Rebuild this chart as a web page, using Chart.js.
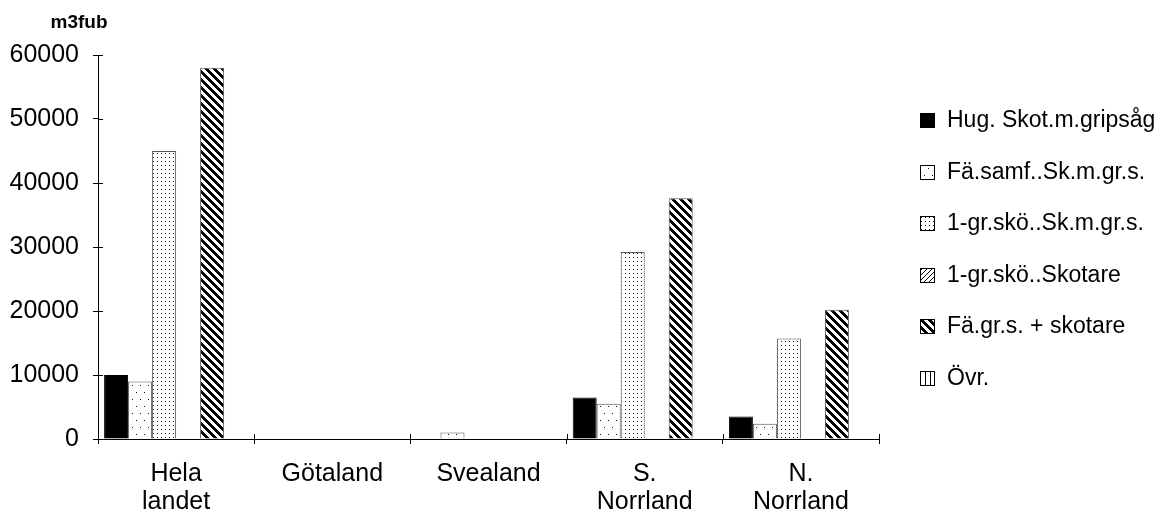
<!DOCTYPE html>
<html>
<head>
<meta charset="utf-8">
<script src="https://cdn.jsdelivr.net/npm/chart.js@4.4.1/dist/chart.umd.min.js"></script>
<style>
  html, body { margin: 0; padding: 0; background: #fff; }
  #wrap { width: 1165px; height: 513px; }
  canvas { display: block; }
</style>
</head>
<body>
<div id="wrap"><canvas id="c" width="1165" height="513"></canvas></div>
<script>
// Regions (x axis categories)
const categories = [['Hela', 'landet'], 'Götaland', 'Svealand', ['S.', 'Norrland'], ['N.', 'Norrland']];
// Series names
const seriesNames = ['Hug. Skot.m.gripsåg', 'Fä.samf..Sk.m.gr.s.', '1-gr.skö..Sk.m.gr.s.', '1-gr.skö..Skotare', 'Fä.gr.s. + skotare', 'Övr.'];
// Volumes per region, m3fub
const hugSkot      = [10000, 0, 0,    6500,  3500];
const faSamf       = [9000,  0, 1000, 5500,  2400];
const grSkoSkmgrs  = [45000, 0, 0,    29200, 15700];
const grSkoSkotare = [0,     0, 0,    0,     0];
const faGrSkotare  = [58000, 0, 0,    37600, 20200];
const ovr          = [0,     0, 0,    0,     0];
// Value axis
const yTicks = [0, 10000, 20000, 30000, 40000, 50000, 60000];
const unitLabel = 'm3fub';

const FONT = "'Liberation Sans', Arial, Helvetica, sans-serif";
Chart.defaults.font.family = FONT;
Chart.defaults.color = '#000';

const canvas = document.getElementById('c');
const ctx = canvas.getContext('2d');

// Build a repeating fill from a small pixel tile
function tilePattern(w, h, isInk, ink) {
  const t = document.createElement('canvas');
  t.width = w; t.height = h;
  const g = t.getContext('2d');
  g.fillStyle = '#fff';
  g.fillRect(0, 0, w, h);
  g.fillStyle = ink || '#000';
  for (let y = 0; y < h; y++) {
    for (let x = 0; x < w; x++) {
      if (isInk(x, y)) g.fillRect(x, y, 1, 1);
    }
  }
  return ctx.createPattern(t, 'repeat');
}

const fills = [
  '#000',
  // sparse staggered dots
  tilePattern(8, 14, (x, y) => (x === 0 && y === 0) || (x === 4 && y === 7), '#111'),
  // dense dots
  tilePattern(4, 4, (x, y) => x === 1 && y === 1, '#222'),
  // thin forward hatch
  tilePattern(5, 5, (x, y) => (x + y) % 5 === 0),
  // heavy backward stripes
  tilePattern(8, 8, (x, y) => ((x - y + 16) % 8) < 4),
  // vertical lines
  tilePattern(5, 5, (x) => x % 5 === 0)
];

const seriesValues = [hugSkot, faSamf, grSkoSkmgrs, grSkoSkotare, faGrSkotare, ovr];

const datasets = seriesNames.map((name, i) => ({
  label: name,
  data: seriesValues[i],
  backgroundColor: fills[i],
  borderColor: i === 0 ? '#000' : '#555',
  borderWidth: 1,
  borderSkipped: 'bottom'
}));

// Tick marks crossing into the plot area
const innerTicks = {
  id: 'innerTicks',
  afterDatasetsDraw(chart) {
    const { ctx, chartArea: a, scales } = chart;
    ctx.save();
    ctx.strokeStyle = '#000';
    ctx.lineWidth = 1;
    ctx.beginPath();
    scales.y.ticks.forEach(t => {
      const y = Math.round(scales.y.getPixelForValue(t.value)) + 0.5;
      ctx.moveTo(a.left, y);
      ctx.lineTo(a.left + 5, y);
    });
    const n = chart.data.labels.length;
    for (let i = 0; i <= n; i++) {
      const x = Math.round(a.left + (a.right - a.left) * i / n) + 0.5;
      ctx.moveTo(x, a.bottom);
      ctx.lineTo(x, a.bottom - 5);
    }
    ctx.stroke();
    ctx.restore();
  }
};

// Unit label above the value axis
const unitTitle = {
  id: 'unitTitle',
  afterDraw(chart) {
    const { ctx } = chart;
    ctx.save();
    ctx.font = 'bold 19px ' + FONT;
    ctx.fillStyle = '#000';
    ctx.textAlign = 'center';
    ctx.textBaseline = 'alphabetic';
    ctx.fillText(unitLabel, 79, 28);
    ctx.restore();
  }
};

// Legend column on the right
const sideLegend = {
  id: 'sideLegend',
  afterDraw(chart) {
    const { ctx } = chart;
    const top = 120, step = 51.6, boxX = 920, box = 15, textX = 947;
    ctx.save();
    ctx.font = '23px ' + FONT;
    ctx.textAlign = 'left';
    ctx.textBaseline = 'middle';
    chart.data.datasets.forEach((d, i) => {
      const y = Math.round(top + i * step);
      ctx.fillStyle = d.backgroundColor;
      ctx.fillRect(boxX, y - 7, box, box);
      ctx.strokeStyle = '#000';
      ctx.lineWidth = 1;
      ctx.strokeRect(boxX + 0.5, y - 6.5, box - 1, box - 1);
      ctx.fillStyle = '#000';
      ctx.fillText(d.label, textX, y + 1);
    });
    ctx.restore();
  }
};

new Chart(ctx, {
  type: 'bar',
  data: { labels: categories, datasets },
  options: {
    responsive: false,
    animation: false,
    devicePixelRatio: 1,
    layout: { padding: { top: 55, right: 286, bottom: 0, left: 0 } },
    datasets: { bar: { categoryPercentage: 0.922, barPercentage: 1 } },
    plugins: { legend: { display: false }, tooltip: { enabled: false }, title: { display: false } },
    scales: {
      x: {
        grid: { display: true, drawOnChartArea: false, offset: true, tickLength: 5, color: '#000', lineWidth: 1 },
        border: { color: '#000', width: 1 },
        ticks: { color: '#000', font: { size: 25, lineHeight: 1.12 }, padding: 16, maxRotation: 0, autoSkip: false },
        afterFit(s) { s.height = 74; }
      },
      y: {
        min: 0,
        max: 60000,
        afterBuildTicks(s) { s.ticks = yTicks.map(v => ({ value: v })); },
        grid: { drawOnChartArea: false, tickLength: 5, color: '#000', lineWidth: 1 },
        border: { color: '#000', width: 1 },
        ticks: { color: '#000', font: { size: 25 }, padding: 14, callback: v => String(v) },
        afterFit(s) { s.width = 98; }
      }
    }
  },
  plugins: [innerTicks, unitTitle, sideLegend]
});
</script>
</body>
</html>
